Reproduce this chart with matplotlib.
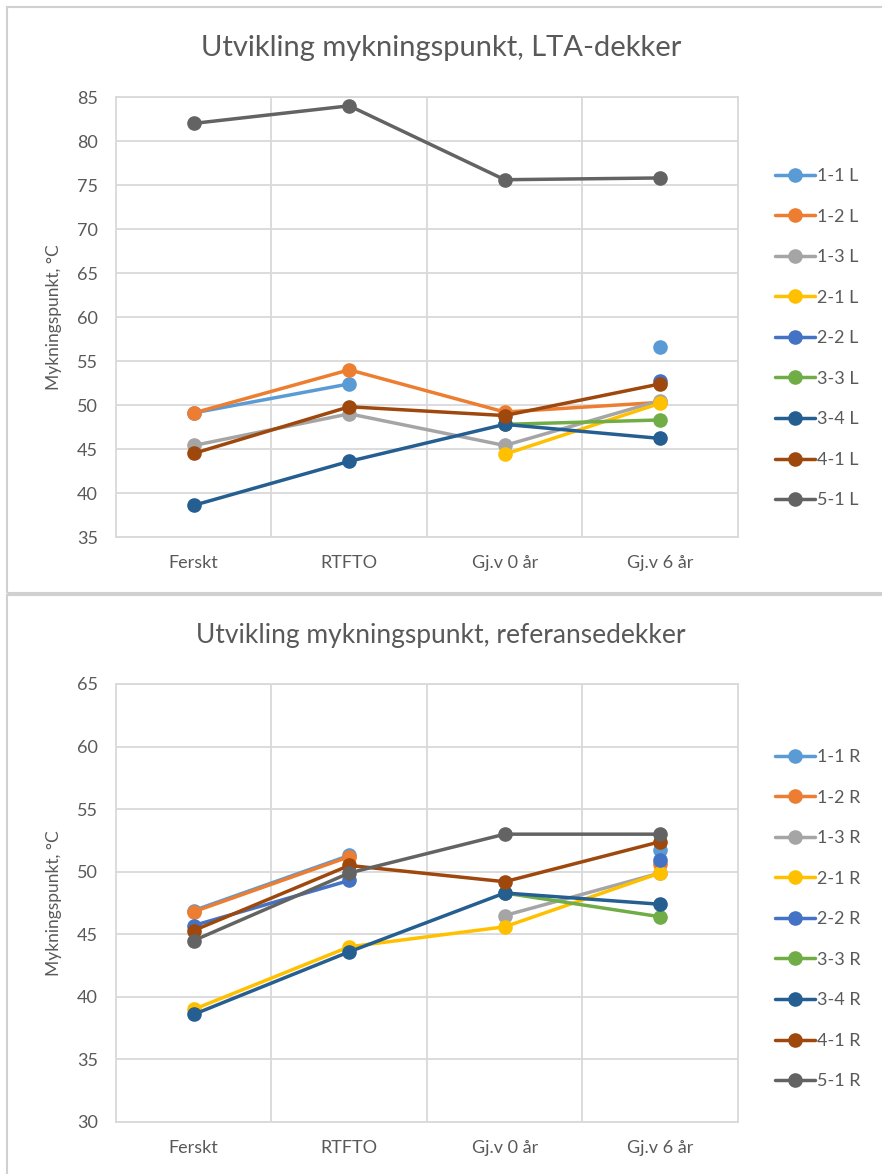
import numpy as np
import matplotlib
matplotlib.use('Agg')
import matplotlib.pyplot as plt
from matplotlib.patches import Rectangle

nan = np.nan

categories = ['Ferskt', 'RTFTO', 'Gj.v 0 år', 'Gj.v 6 år']
series_ids = ['1-1', '1-2', '1-3', '2-1', '2-2', '3-3', '3-4', '4-1', '5-1']
colors = ['#5B9BD5', '#ED7D31', '#A5A5A5', '#FFC000', '#4472C4',
          '#70AD47', '#255E91', '#9E480E', '#636363']

# LTA-dekker (top chart)
lta_11 = [49.1, 52.4, nan, 56.6]
lta_12 = [49.1, 54.0, 49.2, 50.3]
lta_13 = [45.4, 49.0, 45.4, 50.5]
lta_21 = [nan, nan, 44.4, 50.2]
lta_22 = [nan, nan, nan, 52.7]
lta_33 = [nan, nan, 47.8, 48.3]
lta_34 = [38.6, 43.6, 47.8, 46.2]
lta_41 = [44.5, 49.8, 48.8, 52.4]
lta_51 = [82.0, 84.0, 75.6, 75.8]

# referansedekker (bottom chart)
ref_11 = [46.9, 51.3, nan, 51.7]
ref_12 = [46.8, 51.2, nan, 50.6]
ref_13 = [nan, nan, 46.5, 49.9]
ref_21 = [39.0, 44.0, 45.6, 49.9]
ref_22 = [45.7, 49.3, nan, 50.9]
ref_33 = [nan, nan, 48.3, 46.4]
ref_34 = [38.6, 43.6, 48.3, 47.4]
ref_41 = [45.3, 50.5, 49.2, 52.4]
ref_51 = [44.5, 49.9, 53.0, 53.0]

lta = [lta_11, lta_12, lta_13, lta_21, lta_22, lta_33, lta_34, lta_41, lta_51]
ref = [ref_11, ref_12, ref_13, ref_21, ref_22, ref_33, ref_34, ref_41, ref_51]

W, H = 882, 1174
txt = '#595959'
grid = '#D9D9D9'
font = 'Lato'

fig = plt.figure(figsize=(W / 100, H / 100), dpi=100)

# chart frames
fig.patches.append(Rectangle((7 / W, 1 - 593 / H), 1.0, 586 / H, transform=fig.transFigure,
                             fill=False, edgecolor='#D0D0D0', linewidth=1.5))
fig.patches.append(Rectangle((7 / W, -0.01), 1.0, (1174 - 595) / H + 0.01, transform=fig.transFigure,
                             fill=False, edgecolor='#D0D0D0', linewidth=1.5))


def px_axes(left, top, right, bottom):
    return fig.add_axes([left / W, 1 - bottom / H, (right - left) / W, (bottom - top) / H])


def draw(ax, data, suffix, ylim, title, title_y, title_size, legend_top):
    x = np.arange(len(categories))
    for vals, sid, col in zip(data, series_ids, colors):
        ax.plot(x, vals, color=col, lw=2.5, marker='o', ms=9.5,
                label=sid + ' ' + suffix, solid_capstyle='round')
    ax.set_xlim(-0.5, len(categories) - 0.5)
    ax.set_ylim(*ylim)
    ax.set_yticks(np.arange(ylim[0], ylim[1] + 1, 5))
    ax.set_xticks(x)
    ax.set_xticklabels(categories)
    ax.set_xticks(np.arange(0.5, len(categories) - 1, 1), minor=True)
    ax.grid(True, which='major', axis='y', color=grid, lw=1.3)
    ax.grid(True, which='minor', axis='x', color=grid, lw=1.3)
    ax.set_axisbelow(True)
    ax.tick_params(which='both', length=0, colors=txt, labelsize=13, pad=13)
    for lab in ax.get_xticklabels() + ax.get_yticklabels():
        lab.set_family(font)
    for s in ax.spines.values():
        s.set_color(grid)
        s.set_linewidth(1.3)
    ax.set_ylabel('Mykningspunkt, °C', color=txt, fontsize=12.5, family=font, labelpad=11)
    fig.text(441 / W, 1 - title_y / H, title, ha='center', va='center',
             color=txt, fontsize=title_size, family=font)
    leg = ax.legend(loc='upper left', bbox_to_anchor=(775 / W, 1 - legend_top / H),
                    bbox_transform=fig.transFigure, frameon=False, fontsize=13,
                    labelspacing=1.36, handlelength=2.2, handletextpad=0.12,
                    borderpad=0, borderaxespad=0, markerscale=1.0)
    for t in leg.get_texts():
        t.set_color(txt)
        t.set_family(font)


ax1 = px_axes(116, 97, 738, 537)
draw(ax1, lta, 'L', (35, 85), 'Utvikling mykningspunkt, LTA-dekker', 48, 21, 168)

ax2 = px_axes(116, 684, 738, 1122)
draw(ax2, ref, 'R', (30, 65), 'Utvikling mykningspunkt, referansedekker', 635, 19, 749)

fig.savefig('out.png', dpi=100, facecolor='white')
